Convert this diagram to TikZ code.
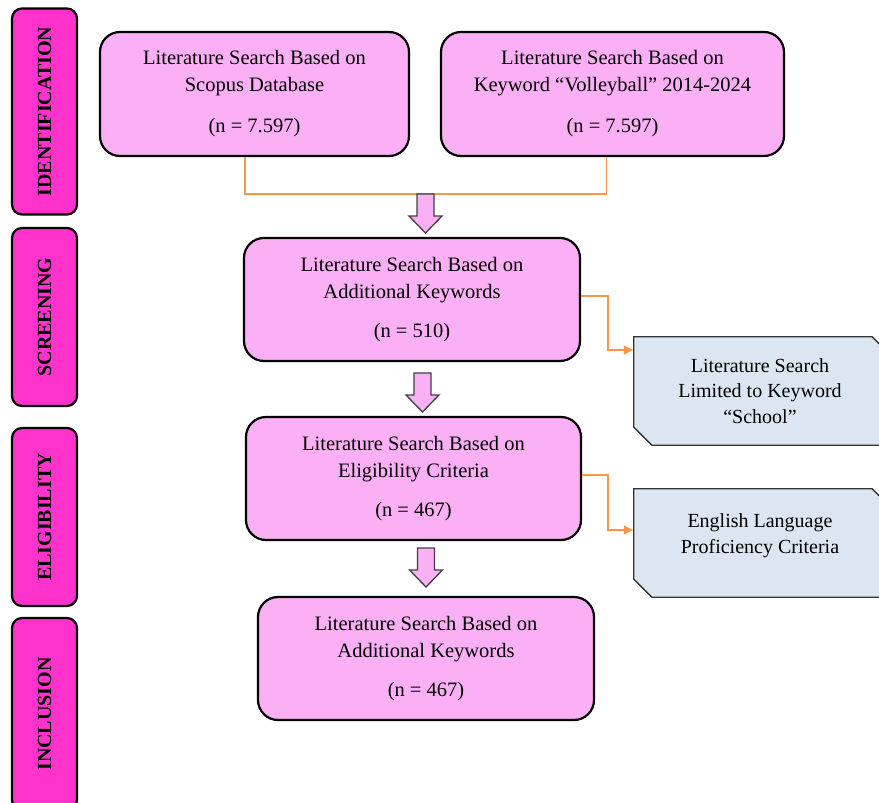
\documentclass[tikz,border=0pt]{standalone}
\usepackage{fontspec}
\setmainfont{Liberation Serif}
\usetikzlibrary{calc,arrows.meta}
\definecolor{boxpink}{RGB}{251,176,246}
\definecolor{labmag}{RGB}{255,51,204}
\definecolor{sideblue}{RGB}{220,230,242}
\definecolor{conorange}{RGB}{247,150,70}
\tikzset{
  mainbox/.style={draw=black, line width=2.2pt, fill=boxpink, rounded corners=20pt,
    align=center, font=\fontsize{20.5}{27}\selectfont, inner sep=0pt},
  stagebox/.style={draw=black, line width=2.2pt, fill=labmag, rounded corners=10pt,
    inner sep=0pt, rotate=90, minimum height=65pt, font=\bfseries\fontsize{20}{22}\selectfont},
  sidebox/.style={inner sep=0pt, minimum width=256pt, minimum height=108pt},
  sidetext/.style={align=center, font=\fontsize{20}{25.5}\selectfont, inner sep=0pt},
  snip/.style={draw=black!80, line width=1.3pt, fill=sideblue},
  orangeline/.style={draw=conorange, line width=1.3pt},
  orangearrow/.style={orangeline, -{Triangle[length=9pt,width=9pt]}, shorten >=1pt},
  blockarrow/.style={fill=boxpink, draw=black!75, line width=1.3pt, line join=miter},
  blockarr/.pic={\path[blockarrow] (-8.5,0) -- (8.5,0) -- (8.5,22) -- (16.5,22) -- (0,39)
      -- (-16.5,22) -- (-8.5,22) -- cycle;}
}
\begin{document}
\begin{tikzpicture}[x=1pt,y=-1pt]
\useasboundingbox (0,0) rectangle (879,803);
% stage labels
\node[stagebox, minimum width=206pt] (s1) at (44.5,111.5) {IDENTIFICATION};
\node[stagebox, minimum width=178pt] (s2) at (44.5,317) {SCREENING};
\node[stagebox, minimum width=178pt] (s3) at (44.5,517) {ELIGIBILITY};
\node[stagebox, minimum width=192pt] (s4) at (44.5,714) {INCLUSION};
% main boxes
\node[mainbox, minimum width=309pt, minimum height=124pt] (A) at (254.5,94)
  {Literature Search Based on\\Scopus Database\\[14pt](n = 7.597)};
\node[mainbox, minimum width=343pt, minimum height=124pt] (B) at (612.5,94)
  {Literature Search Based on\\Keyword “Volleyball” 2014-2024\\[14pt](n = 7.597)};
\node[mainbox, minimum width=336pt, minimum height=123pt] (C) at (412,299.5)
  {Literature Search Based on\\Additional Keywords\\[12pt](n = 510)};
\node[mainbox, minimum width=335pt, minimum height=123pt] (E) at (413.5,478.5)
  {Literature Search Based on\\Eligibility Criteria\\[12pt](n = 467)};
\node[mainbox, minimum width=336pt, minimum height=123pt] (G) at (426,658.5)
  {Literature Search Based on\\Additional Keywords\\[12pt](n = 467)};
% side boxes
\node[sidebox] (Dbox) at (762,391) {};
\path[snip] (Dbox.north west) -- ([xshift=-18pt]Dbox.north east) -- ([yshift=-18pt]Dbox.north east)
  -- (Dbox.south east) -- ([xshift=18pt]Dbox.south west) -- ([yshift=18pt]Dbox.south west) -- cycle;
\node[sidetext] (D) at (760,391) {Literature Search\\Limited to Keyword\\“School”};
\node[sidebox] (Fbox) at (762,543) {};
\path[snip] (Fbox.north west) -- ([xshift=-18pt]Fbox.north east) -- ([yshift=-18pt]Fbox.north east)
  -- (Fbox.south east) -- ([xshift=18pt]Fbox.south west) -- ([yshift=18pt]Fbox.south west) -- cycle;
\node[sidetext] (F) at (760,535.5) {English Language\\Proficiency Criteria};
% connectors
\draw[orangeline] ([xshift=-9.5pt]A.south) -- ++(0,37) -| ([xshift=-6pt]B.south);
\draw[orangearrow] ([yshift=3.5pt]C.east) -- ++(27,0) |- ([yshift=41pt]Dbox.west);
\draw[orangearrow] ([yshift=3.5pt]E.east) -- ++(26,0) |- ([yshift=13pt]Fbox.west);
% block arrows
\pic at (425.5,194) {blockarr};
\pic at (422.5,373) {blockarr};
\pic at (426,548) {blockarr};
\end{tikzpicture}
\end{document}
